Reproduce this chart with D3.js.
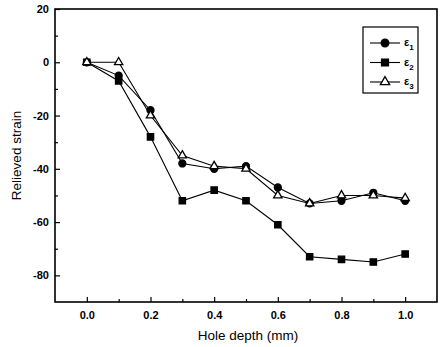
<!DOCTYPE html>
<html>
<head>
<meta charset="utf-8">
<script src="https://cdn.jsdelivr.net/npm/d3@7"></script>
<style>
  body { margin: 0; background: #fff; }
  text { font-family: "Liberation Sans", Arial, sans-serif; }
</style>
</head>
<body>
<div id="root"></div>
<script>
// data
const depths = [0.0, 0.1, 0.2, 0.3, 0.4, 0.5, 0.6, 0.7, 0.8, 0.9, 1.0];
const eps1 = [0, -5, -18, -38, -40, -39, -47, -53, -52, -49, -52];
const eps2 = [0, -7, -28, -52, -48, -52, -61, -73, -74, -75, -72];
const eps3 = [0, 0, -20, -35, -39, -40, -50, -53, -50, -50, -51];
const xTicks = [0.0, 0.2, 0.4, 0.6, 0.8, 1.0];
const yTicks = [20, 0, -20, -40, -60, -80];

const width = 440, height = 347;
const margin = { left: 55, right: 3, top: 9, bottom: 45 };

const xScale = d3.scaleLinear()
  .domain([-0.1, 1.1])
  .range([margin.left, width - margin.right]);
const yScale = d3.scaleLinear()
  .domain([-90, 20])
  .range([height - margin.bottom, margin.top]);

const svg = d3.select("#root").append("svg")
  .attr("width", width)
  .attr("height", height);

// frame
svg.append("rect")
  .attr("x", margin.left)
  .attr("y", margin.top)
  .attr("width", width - margin.left - margin.right)
  .attr("height", height - margin.top - margin.bottom)
  .attr("fill", "none")
  .attr("stroke", "#000")
  .attr("stroke-width", 1.6);

// axes, ticks pointing inward
const xAxis = d3.axisBottom(xScale).tickValues(xTicks).tickSize(-5)
  .tickFormat(d3.format(".1f")).tickSizeOuter(0);
const xMinor = d3.axisBottom(xScale).tickValues(d3.range(0.1, 1.0, 0.2)).tickSize(-3)
  .tickFormat("").tickSizeOuter(0);
const yAxis = d3.axisLeft(yScale).tickValues(yTicks).tickSize(-5)
  .tickFormat(d => String(d)).tickSizeOuter(0);
const yMinor = d3.axisLeft(yScale).tickValues([10, -10, -30, -50, -70]).tickSize(-3)
  .tickFormat("").tickSizeOuter(0);

function styleAxis(g) {
  g.select(".domain").remove();
  g.selectAll(".tick line").attr("stroke", "#000").attr("stroke-width", 1.2);
  g.selectAll(".tick text")
    .attr("fill", "#000")
    .style("font-size", "11px")
    .style("font-weight", "bold");
}

svg.append("g")
  .attr("transform", `translate(0, ${height - margin.bottom})`)
  .call(xAxis).call(styleAxis)
  .selectAll(".tick text").attr("dy", "1.3em");
svg.append("g")
  .attr("transform", `translate(0, ${height - margin.bottom})`)
  .call(xMinor).call(styleAxis);
svg.append("g")
  .attr("transform", `translate(${margin.left}, 0)`)
  .call(yAxis).call(styleAxis)
  .selectAll(".tick text").attr("x", -6);
svg.append("g")
  .attr("transform", `translate(${margin.left}, 0)`)
  .call(yMinor).call(styleAxis);

// axis titles
svg.append("text")
  .attr("x", 248)
  .attr("y", 340)
  .attr("text-anchor", "middle")
  .style("font-size", "13.5px")
  .text("Hole depth (mm)");
svg.append("text")
  .attr("transform", `translate(21, ${(margin.top + height - margin.bottom) / 2}) rotate(-90)`)
  .attr("text-anchor", "middle")
  .style("font-size", "13.5px")
  .text("Relieved strain");

// series
const series = [
  { name: "ε", sub: "1", values: eps1, symbol: d3.symbolCircle, size: 38, fill: "#000" },
  { name: "ε", sub: "2", values: eps2, symbol: d3.symbolSquare, size: 40, fill: "#000" },
  { name: "ε", sub: "3", values: eps3, symbol: d3.symbolTriangle, size: 30, fill: "#fff" }
];

const line = d3.line()
  .x((d, i) => xScale(depths[i]))
  .y(d => yScale(d));

series.forEach(s => {
  svg.append("path")
    .attr("d", line(s.values))
    .attr("fill", "none")
    .attr("stroke", "#000")
    .attr("stroke-width", 1.1);
});

series.forEach(s => {
  svg.selectAll(null)
    .data(s.values)
    .enter()
    .append("path")
    .attr("d", d3.symbol().type(s.symbol).size(s.size))
    .attr("transform", (d, i) => `translate(${xScale(depths[i])}, ${yScale(d)})`)
    .attr("fill", s.fill)
    .attr("stroke", "#000")
    .attr("stroke-width", 1.3);
});

// legend
const legend = svg.append("g");
legend.append("rect")
  .attr("x", 363).attr("y", 27)
  .attr("width", 55).attr("height", 66)
  .attr("fill", "#fff")
  .attr("stroke", "#000")
  .attr("stroke-width", 1.2);

series.forEach((s, i) => {
  const y = 43 + i * 19.5;
  legend.append("line")
    .attr("x1", 370).attr("x2", 400)
    .attr("y1", y).attr("y2", y)
    .attr("stroke", "#000").attr("stroke-width", 1.1);
  legend.append("path")
    .attr("d", d3.symbol().type(s.symbol).size(s.size + 8))
    .attr("transform", `translate(385, ${y})`)
    .attr("fill", s.fill)
    .attr("stroke", "#000")
    .attr("stroke-width", 1.3);
  const t = legend.append("text")
    .attr("x", 404).attr("y", y + 3)
    .style("font-size", "11px")
    .style("font-weight", "bold");
  t.append("tspan").text(s.name);
  t.append("tspan").attr("dy", 4).style("font-size", "8px").text(s.sub);
});
</script>
</body>
</html>
